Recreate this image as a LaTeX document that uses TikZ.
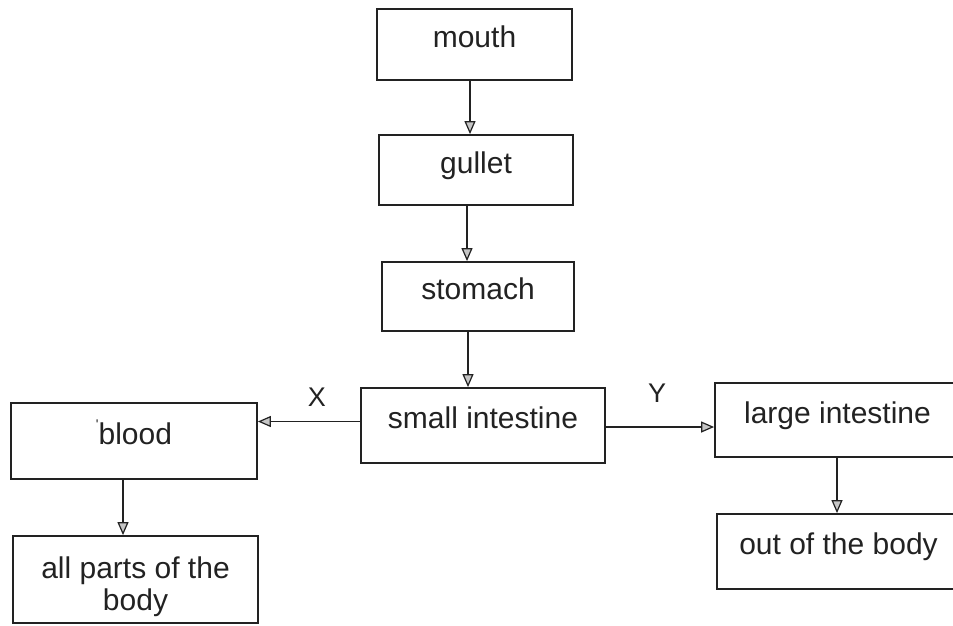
\documentclass[tikz,border=0pt]{standalone}
\usepackage{fontspec}
\setmainfont{Liberation Sans}
\usetikzlibrary{arrows.meta}
\definecolor{ink}{HTML}{222222}
\begin{document}
\begin{tikzpicture}[x=1pt,y=-1pt,
  box/.style={draw=ink,line width=1.8pt,rectangle,inner sep=0pt,
    font=\fontsize{30}{32}\selectfont,text height=0.8em,text depth=0.2em,text=ink},
  arr/.style={draw=ink,line width=1.7pt,-{Triangle[length=13pt,width=11pt,fill=gray!45,line width=1.2pt]}},
  lbl/.style={font=\fontsize{27}{30}\selectfont,text=ink,inner sep=0pt}]
\useasboundingbox (0,0) rectangle (953,625);
\clip (0,0) rectangle (953,625);
\node[box,minimum width=195pt,minimum height=71pt] (mouth) at (474.5,44.5) {mouth};
\node[box,minimum width=194pt,minimum height=70pt] (gullet) at (476,170) {gullet};
\node[box,minimum width=192pt,minimum height=69pt] (stomach) at (478,296.5) {stomach};
\node[box,minimum width=244pt,minimum height=75pt] (small) at (483,425.5) {small intestine};
\node[box,minimum width=246pt,minimum height=76pt] (blood) at (134,441) {{\raisebox{0.5em}{\fontsize{14}{14}\selectfont\textquotesingle}}blood};
\node[box,minimum width=245pt,minimum height=87pt] (allparts) at (135.5,579.5) {};
\node[font=\fontsize{30}{32}\selectfont,text=ink,align=center,inner sep=0pt] (alltext) at (135.5,587) {all parts of the\\body};
\node[box,minimum width=245pt,minimum height=74pt] (large) at (837.5,420) {large intestine};
\node[box,minimum width=243pt,minimum height=75pt] (out) at (838.5,551.5) {out of the body};
\node[lbl] (X) at (317,397) {X};
\node[lbl] (Y) at (657,393) {Y};
\draw[arr] ([xshift=-4.5pt]mouth.south) -- ([xshift=-4.5pt]mouth.south |- gullet.north);
\draw[arr] ([xshift=-9pt]gullet.south) -- ([xshift=-9pt]gullet.south |- stomach.north);
\draw[arr] ([xshift=-10pt]stomach.south) -- ([xshift=-10pt]stomach.south |- small.north);
\draw[arr] ([yshift=4pt]small.west) -- ([yshift=4pt]small.west -| blood.east);
\draw[arr] ([yshift=-1.5pt]small.east) -- ([yshift=-1.5pt]small.east -| large.west);
\draw[arr] ([xshift=-11pt]blood.south) -- ([xshift=-11pt]blood.south |- allparts.north);
\draw[arr] ([xshift=-0.5pt]large.south) -- ([xshift=-0.5pt]large.south |- out.north);
\end{tikzpicture}
\end{document}
